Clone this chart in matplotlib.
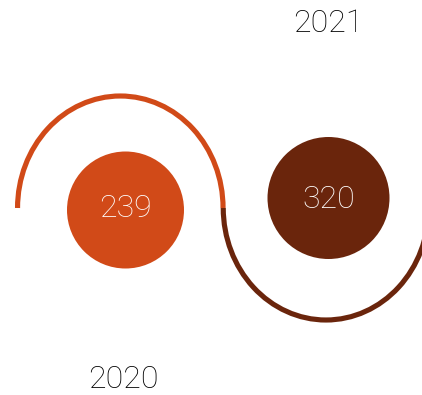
import matplotlib.pyplot as plt
from matplotlib.patches import Arc, Circle

years = ["2020", "2021"]
values = [239, 320]
colors = ["#D14A18", "#6A250C"]

FONT = dict(family="Roboto", fontweight="light", fontsize=23,
            ha="center", va="center")

fig = plt.figure(figsize=(4.22, 3.95), dpi=100)
ax = fig.add_axes([0, 0, 1, 1])
ax.set_xlim(0, 422)
ax.set_ylim(395, 0)
ax.axis("off")

# wave: upper half-ellipse for the first year, lower half for the second
arc_cx = [120.3, 326.0]
arc_cy = 208
arc_w, arc_h = 205.5, 224
ax.add_patch(Arc((arc_cx[0], arc_cy), arc_w, arc_h, theta1=180, theta2=360,
                 color=colors[0], lw=3.7))
ax.add_patch(Arc((arc_cx[1], arc_cy), arc_w, arc_h, theta1=0, theta2=180,
                 color=colors[1], lw=3.7))

# value bubbles
bubble_xy = [(125.5, 210), (328.5, 198)]
bubble_r = [58.5, 61]
label_dy = [-1.5, 2]
for (x, y), r, dy, c, v in zip(bubble_xy, bubble_r, label_dy, colors, values):
    ax.add_patch(Circle((x, y), r, color=c, lw=0))
    ax.text(x, y + dy, str(v), color="white", **FONT)

# year labels
ax.text(123, 379, years[0], color="black", **FONT)
ax.text(328, 24, years[1], color="black", **FONT)

fig.savefig("out.png", dpi=100)
